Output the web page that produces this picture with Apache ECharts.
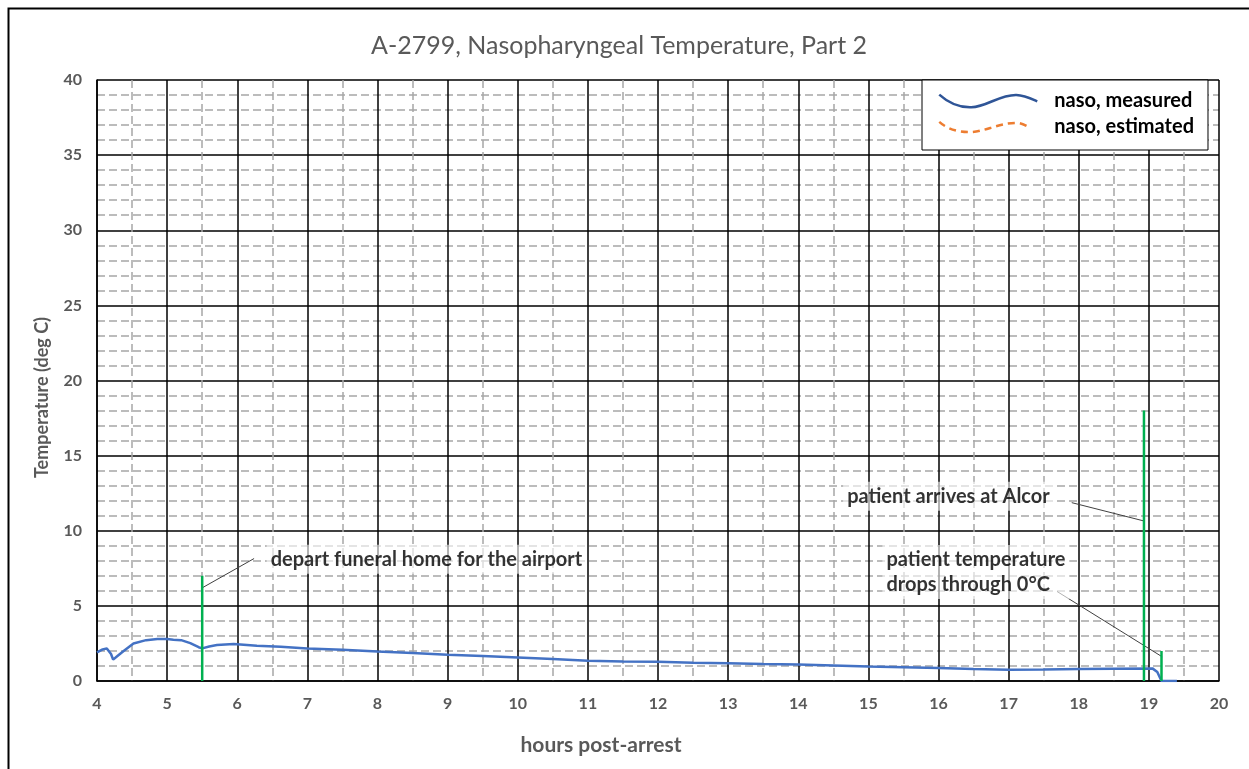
<!DOCTYPE html>
<html>
<head>
<meta charset="utf-8">
<script src="https://cdn.jsdelivr.net/npm/echarts@6/dist/echarts.min.js"></script>
<style>
html, body { margin: 0; padding: 0; background: #fff; }
#chart { width: 1249px; height: 769px; }
</style>
</head>
<body>
<div id="chart"></div>
<script>
// measured nasopharyngeal temperature
var hours = [4.0, 4.08, 4.14, 4.2, 4.23, 4.3, 4.38, 4.52, 4.7, 4.86, 5.0, 5.09, 5.2, 5.33, 5.45, 5.5,
    5.6, 5.71, 5.95, 6.28, 6.62, 7.0, 7.5, 8.0, 8.5, 9.0, 9.5, 10.0, 10.5, 11.0, 11.5, 12.0, 12.5,
    13.0, 13.5, 14.0, 14.5, 15.0, 15.5, 16.0, 16.5, 17.0, 17.5, 18.0, 18.5, 19.05, 19.12, 19.18, 19.4];
var temps = [1.9, 2.1, 2.17, 1.8, 1.42, 1.7, 2.0, 2.5, 2.72, 2.79, 2.8, 2.75, 2.72, 2.52, 2.25, 2.17,
    2.3, 2.39, 2.46, 2.35, 2.28, 2.17, 2.08, 1.97, 1.87, 1.75, 1.66, 1.57, 1.46, 1.35, 1.3, 1.28, 1.22,
    1.18, 1.13, 1.09, 1.03, 0.97, 0.92, 0.86, 0.8, 0.75, 0.77, 0.8, 0.82, 0.84, 0.6, 0.0, 0.0];

// green event markers: hour, top of bar
var eventHours = [5.5, 18.93, 19.18];
var eventTops = [7, 18, 2];

// annotation texts with their anchor (hour, deg C) and leader lines
var noteTexts = ['depart funeral home for the airport', 'patient arrives at Alcor', 'patient temperature\ndrops through 0°C'];
var notePos = [[6.42, 8.1], [14.64, 12.3], [15.2, 7.25]];
var leaders = [
    [[5.5, 6.2], [6.24, 8.15]],
    [[17.9, 11.87], [18.93, 10.65]],
    [[17.69, 5.96], [19.19, 1.61]]
];

var xMin = 4, xMax = 20, xStep = 1;
var yMin = 0, yMax = 40, yStep = 5;

var chart = echarts.init(document.getElementById('chart'));

var wave = 'path://M0,0 C10,9 22,13 32,12.7 C48,12 60,0 77,0.3 C85,0.5 92,4 98,6.7 M110,6';
var waveDash = 'path://M2,0 C10,7 20,10 32,10 C46,10 60,1 78,1 C82,1 86,3 89,4.5 M110,4';

var series = [
    {
        name: 'naso, measured',
        type: 'line',
        showSymbol: false,
        data: hours.map(function (h, i) { return [h, temps[i]]; }),
        lineStyle: { color: '#4472c4', width: 2.5 },
        itemStyle: { color: '#4472c4' },
        z: 5
    },
    {
        name: 'naso, estimated',
        type: 'line',
        showSymbol: false,
        data: [],
        lineStyle: { color: '#ed7d31', width: 2.5, type: 'dashed' },
        itemStyle: { color: '#ed7d31' }
    }
];

eventHours.forEach(function (h, i) {
    series.push({
        type: 'line',
        showSymbol: false,
        silent: true,
        data: [[h, yMin], [h, eventTops[i]]],
        lineStyle: { color: '#00b050', width: 2.5 },
        z: 6
    });
});

leaders.forEach(function (seg) {
    series.push({
        type: 'line',
        showSymbol: false,
        silent: true,
        data: seg,
        lineStyle: { color: '#404040', width: 1 },
        z: 4
    });
});

series.push({
    type: 'scatter',
    symbolSize: 0,
    silent: true,
    data: notePos.map(function (p, i) { return { value: p, name: noteTexts[i] }; }),
    label: {
        show: true,
        position: 'right',
        distance: 0,
        formatter: '{b}',
        fontFamily: 'Lato',
        fontWeight: 'bold',
        fontSize: 20,
        lineHeight: 25,
        color: '#000',
        backgroundColor: 'rgba(255,255,255,0.75)',
        padding: [2, 4]
    },
    z: 7
});

chart.setOption({
    animation: false,
    backgroundColor: '#fff',
    title: {
        text: 'A-2799, Nasopharyngeal Temperature, Part 2',
        left: 614,
        textAlign: 'center',
        top: 28,
        textStyle: { fontFamily: 'Lato', fontWeight: 'normal', fontSize: 25, color: '#595959' }
    },
    legend: {
        orient: 'vertical',
        left: 922,
        top: 80,
        padding: [11, 14, 13, 16],
        itemGap: 6,
        itemWidth: 110,
        itemHeight: 14,
        backgroundColor: '#fff',
        borderColor: '#000',
        borderWidth: 1,
        borderRadius: 0,
        textStyle: { fontFamily: 'Lato', fontWeight: 'bold', fontSize: 20, color: '#000' },
        data: [
            { name: 'naso, measured', icon: wave,
              itemStyle: { color: 'transparent', borderColor: '#2f5597', borderWidth: 2.5 } },
            { name: 'naso, estimated', icon: waveDash,
              itemStyle: { color: 'transparent', borderColor: '#ed7d31', borderWidth: 2.5, borderType: [7, 5] } }
        ]
    },
    graphic: [{
        type: 'rect',
        shape: { x: 8.5, y: 8.5, width: 1300, height: 800 },
        style: { fill: 'none', stroke: '#000', lineWidth: 2 },
        silent: true
    }],
    grid: { left: 97, right: 30, top: 80, bottom: 88 },
    xAxis: {
        type: 'value',
        min: xMin, max: xMax, interval: xStep,
        name: 'hours post-arrest',
        nameLocation: 'middle',
        nameGap: 54,
        nameTextStyle: { fontFamily: 'Lato', fontWeight: 'bold', fontSize: 21, color: '#595959', padding: [0, 114, 0, 0] },
        axisLine: { show: true, lineStyle: { color: '#000', width: 1.5 } },
        axisTick: { show: false },
        axisLabel: { fontFamily: 'Lato', fontWeight: 'bold', fontSize: 16, color: '#595959', margin: 15 },
        splitLine: { show: true, lineStyle: { color: '#000', width: 1.5 } },
        minorTick: { show: false, splitNumber: 2 },
        minorSplitLine: { show: true, lineStyle: { color: '#a6a6a6', width: 1.5, type: [8, 4] } }
    },
    yAxis: {
        type: 'value',
        min: yMin, max: yMax, interval: yStep,
        name: 'Temperature (deg C)',
        nameLocation: 'middle',
        nameGap: 46,
        nameTextStyle: { fontFamily: 'Lato', fontWeight: 'bold', fontSize: 18, color: '#595959', padding: [0, 34, 0, 0] },
        axisLine: { show: true, lineStyle: { color: '#000', width: 1.5 } },
        axisTick: { show: false },
        axisLabel: { fontFamily: 'Lato', fontWeight: 'bold', fontSize: 16, color: '#595959', margin: 15 },
        splitLine: { show: true, lineStyle: { color: '#000', width: 1.5 } },
        minorTick: { show: false, splitNumber: 5 },
        minorSplitLine: { show: true, lineStyle: { color: '#a6a6a6', width: 1.5, type: [8, 4] } }
    },
    series: series
});
</script>
</body>
</html>
